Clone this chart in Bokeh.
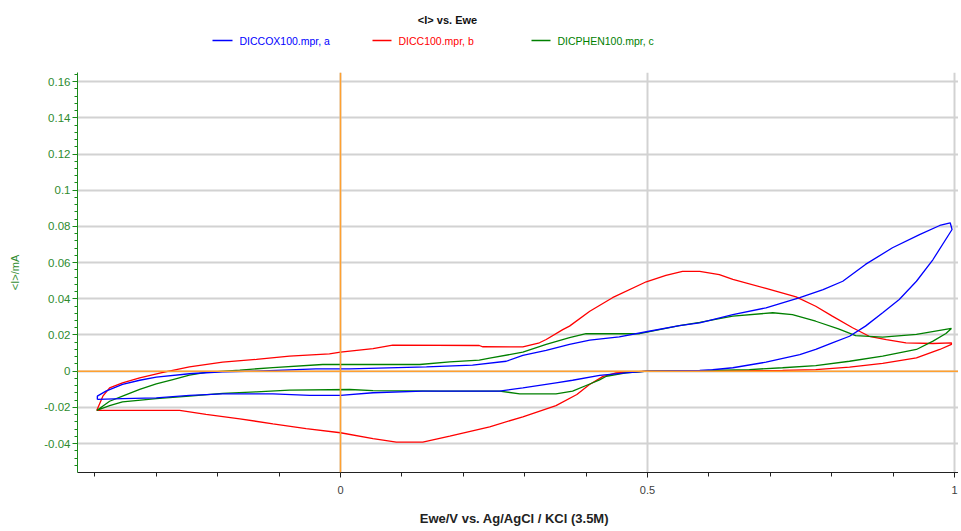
from bokeh.plotting import figure
from bokeh.layouts import column
from bokeh.models import FixedTicker, Span, Range1d
from bokeh.core.properties import value
from bokeh.embed import file_html
from bokeh.resources import INLINE

# ---------------- data ----------------
series_names = ["DICCOX100.mpr, a", "DICC100.mpr, b", "DICPHEN100.mpr, c"]
series_colors = ["#0000ff", "#ff0000", "#008000"]

# a : DICCOX100 (blue) - closed CV loop
a_x = [-0.396, -0.396, -0.382, -0.355, -0.327, -0.300, -0.246, -0.192, -0.137, -0.094, -0.040,
       0.015, 0.140, 0.215, 0.27, 0.297, 0.335, 0.373, 0.406, 0.454, 0.498, 0.552, 0.585, 0.639,
       0.693, 0.748, 0.786, 0.818, 0.855, 0.899, 0.943, 0.976, 0.993, 0.996,
       0.965, 0.938, 0.910, 0.883, 0.855, 0.829, 0.801, 0.774, 0.748, 0.693, 0.639, 0.606, 0.585,
       0.5, 0.465, 0.422, 0.378, 0.351, 0.297, 0.259, 0.134, 0.053, 0.0, -0.050, -0.110, -0.192,
       -0.246, -0.300, -0.355, -0.396]
a_y = [-0.0156, -0.0138, -0.011, -0.0073, -0.005, -0.0033, -0.0014, -0.0003, 0.0, 0.0006, 0.0013,
       0.0013, 0.0024, 0.0033, 0.0055, 0.0087, 0.0115, 0.0148, 0.0172, 0.019, 0.0218, 0.0252,
       0.0267, 0.0313, 0.035, 0.0406, 0.0451, 0.0497, 0.059, 0.0682, 0.0755, 0.0805, 0.082, 0.0783,
       0.0617, 0.0497, 0.0396, 0.0323, 0.0249, 0.0193, 0.0157, 0.012, 0.0092, 0.005, 0.0019,
       0.0008, 0.0004, 0.0, -0.0009, -0.0023, -0.005, -0.0064, -0.0092, -0.011, -0.011, -0.0119,
       -0.0134, -0.0134, -0.0125, -0.0125, -0.0134, -0.0147, -0.0151, -0.0156]

# b : DICC100 (red)
b_x = [-0.397, -0.387, -0.376, -0.355, -0.327, -0.289, -0.246, -0.192, -0.137, -0.083, -0.018,
       0.0, 0.053, 0.085, 0.226, 0.232, 0.297, 0.324, 0.335, 0.362, 0.373, 0.406, 0.443, 0.498,
       0.530, 0.557, 0.585, 0.617, 0.639, 0.693, 0.742, 0.774, 0.801, 0.834, 0.861, 0.889, 0.921,
       0.965, 0.995,
       0.995, 0.976, 0.938, 0.883, 0.829, 0.774, 0.72, 0.6, 0.5, 0.449, 0.427, 0.405, 0.385,
       0.351, 0.297, 0.243, 0.178, 0.134, 0.091, 0.053, 0.0, -0.056, -0.110, -0.164, -0.219,
       -0.262, -0.397]
b_y = [-0.0217, -0.0138, -0.0092, -0.0064, -0.0037, -0.0006, 0.0024, 0.005, 0.0065, 0.0083,
       0.0096, 0.0105, 0.0125, 0.0144, 0.0142, 0.0135, 0.0134, 0.0157, 0.0175, 0.023, 0.0249,
       0.0331, 0.0406, 0.0494, 0.0529, 0.0552, 0.0552, 0.0534, 0.0507, 0.0457, 0.0411, 0.0359,
       0.0304, 0.024, 0.0193, 0.0175, 0.0157, 0.0153, 0.0157,
       0.0148, 0.012, 0.0074, 0.0043, 0.0022, 0.0009, 0.0004, 0.0002, 0.0, -0.0009, -0.003,
       -0.0075, -0.0129, -0.019, -0.0252, -0.0307, -0.0359, -0.0392, -0.0392, -0.0372, -0.034,
       -0.0317, -0.0291, -0.0263, -0.0239, -0.0217, -0.0217]

# c : DICPHEN100 (green)
c_x = [-0.397, -0.376, -0.355, -0.327, -0.300, -0.273, -0.246, -0.219, -0.164, -0.110, -0.029,
       0.129, 0.178, 0.226, 0.243, 0.297, 0.335, 0.373, 0.4, 0.487, 0.552, 0.585, 0.617, 0.639,
       0.704, 0.736, 0.774, 0.811, 0.839, 0.883, 0.938, 0.995,
       0.986, 0.965, 0.938, 0.883, 0.829, 0.774, 0.72, 0.666, 0.603, 0.5, 0.465, 0.433, 0.422,
       0.405, 0.378, 0.351, 0.292, 0.259, 0.161, 0.053, 0.015, -0.083, -0.137, -0.192, -0.246,
       -0.300, -0.355, -0.376, -0.397]
c_y = [-0.0217, -0.0166, -0.0138, -0.0101, -0.007, -0.0046, -0.0022, -0.0006, 0.0006, 0.002,
       0.0037, 0.0037, 0.0052, 0.0061, 0.0072, 0.0105, 0.0148, 0.0185, 0.0207, 0.0207, 0.0252,
       0.027, 0.0291, 0.0304, 0.0323, 0.0313, 0.0276, 0.0234, 0.0197, 0.0188, 0.0203, 0.0236,
       0.0208, 0.0166, 0.012, 0.0083, 0.0055, 0.0031, 0.0019, 0.0009, 0.0004, 0.0, -0.0009,
       -0.0028, -0.0048, -0.0072, -0.011, -0.0125, -0.0125, -0.011, -0.011, -0.0107, -0.0101,
       -0.0105, -0.0114, -0.0123, -0.0138, -0.0151, -0.0169, -0.019, -0.0217]

x_ticks = [0, 0.5, 1]
x_tick_labels = ["0", "0.5", "1"]
x_minor_ticks = [-0.4, -0.3, -0.2, -0.1, 0.0, 0.1, 0.2, 0.3, 0.4, 0.5, 0.6, 0.7, 0.8, 0.9, 1.0]
y_ticks = [-0.04, -0.02, 0, 0.02, 0.04, 0.06, 0.08, 0.1, 0.12, 0.14, 0.16]
y_tick_labels = ["-0.04", "-0.02", "0", "0.02", "0.04", "0.06", "0.08", "0.1", "0.12", "0.14", "0.16"]
y_minor_ticks = [round(-0.056 + 0.004 * i, 4) for i in range(56)]

title_text = "<I> vs. Ewe"
x_title = "Ewe/V  vs.  Ag/AgCl / KCl (3.5M)"
y_title = "<I>/mA"

FONT = "Liberation Sans"
GREEN_TXT = "#2e8b2e"

W = 958
TOTAL_H = 528
HEAD_H = 56
MAIN_H = TOTAL_H - HEAD_H
FRAME_L, FRAME_R = 78, 959   # page pixels of the (shared) plot frame

# ---------------- header (title + legend) ----------------
# the column aligns the header frame with the main frame; x uses page pixels
h = figure(width=W, height=HEAD_H, output_backend="svg", toolbar_location=None,
           x_range=Range1d(FRAME_L, FRAME_R), y_range=Range1d(0, HEAD_H),
           x_axis_location=None, y_axis_location=None,
           min_border_left=77, min_border_right=0, min_border_top=0, min_border_bottom=0)
h.grid.visible = False
h.outline_line_color = None

h.text(x=[448], y=[HEAD_H - 19.5], text=[title_text], text_font=value(FONT),
       text_font_size="11px", text_font_style="bold", text_color="#111111",
       text_align="center", text_baseline="middle")
leg_line_x = [(213, 233), (373, 392), (532, 551)]
leg_text_x = [240, 399, 558]
LEG_Y = HEAD_H - 40
for (x0, x1), tx, name, col in zip(leg_line_x, leg_text_x, series_names, series_colors):
    h.line([x0, x1], [LEG_Y, LEG_Y], line_color=col, line_width=1.3)
    h.text(x=[tx], y=[LEG_Y], text=[name], text_font=value(FONT), text_font_size="10.5px",
           text_color=col, text_align="left", text_baseline="middle")

# ---------------- main figure ----------------
p = figure(width=W, height=MAIN_H, output_backend="svg", toolbar_location=None,
           x_range=(-0.4283, 1.0065), y_range=(-0.05597, 0.16503),
           min_border_left=77, min_border_right=0, min_border_top=16, min_border_bottom=56)
p.outline_line_color = None

p.xaxis.ticker = FixedTicker(ticks=x_ticks, minor_ticks=x_minor_ticks)
p.yaxis.ticker = FixedTicker(ticks=y_ticks, minor_ticks=y_minor_ticks)
p.xaxis.major_label_overrides = dict(zip(x_ticks, x_tick_labels))
p.yaxis.major_label_overrides = dict(zip(y_ticks, y_tick_labels))
for g in (p.xgrid, p.ygrid):
    g.grid_line_color = "#d2d2d2"
    g.grid_line_width = 2

p.yaxis.axis_line_color = "#1a8a1a"
p.yaxis.major_tick_line_color = "#1a8a1a"
p.yaxis.minor_tick_line_color = "#1a8a1a"
p.yaxis.major_tick_out = 5
p.yaxis.major_tick_in = 0
p.yaxis.minor_tick_out = 3
p.yaxis.minor_tick_in = 0
p.yaxis.major_label_standoff = 2
p.yaxis.major_label_text_color = GREEN_TXT
p.yaxis.major_label_text_font = FONT
p.yaxis.major_label_text_font_size = "11.5px"
p.yaxis.axis_label = y_title
p.yaxis.axis_label_text_color = GREEN_TXT
p.yaxis.axis_label_text_font = FONT
p.yaxis.axis_label_text_font_size = "11px"
p.yaxis.axis_label_text_font_style = "normal"
p.yaxis.axis_label_standoff = 20

p.xaxis.axis_line_color = "#222222"
p.xaxis.major_tick_line_color = "#222222"
p.xaxis.minor_tick_line_color = "#222222"
p.xaxis.major_tick_out = 5
p.xaxis.major_tick_in = 0
p.xaxis.minor_tick_out = 4
p.xaxis.minor_tick_in = 0
p.xaxis.major_label_standoff = 8
p.xaxis.major_label_text_color = "#404040"
p.xaxis.major_label_text_font = FONT
p.xaxis.major_label_text_font_size = "11px"
p.xaxis.axis_label = x_title
p.xaxis.axis_label_text_color = "#222222"
p.xaxis.axis_label_text_font = FONT
p.xaxis.axis_label_text_font_size = "13px"
p.xaxis.axis_label_text_font_style = "bold"
p.xaxis.axis_label_standoff = 14

p.add_layout(Span(location=0, dimension="width", line_color="#ffa030", line_width=1.5))
p.add_layout(Span(location=0, dimension="height", line_color="#ffa030", line_width=1.5))

for xs, ys, col in ((b_x, b_y, series_colors[1]), (c_x, c_y, series_colors[2]),
                    (a_x, a_y, series_colors[0])):
    p.line(xs, ys, line_color=col, line_width=1.3)

layout = column(h, p, spacing=0)
open("out.html", "w").write(file_html(layout, INLINE))
